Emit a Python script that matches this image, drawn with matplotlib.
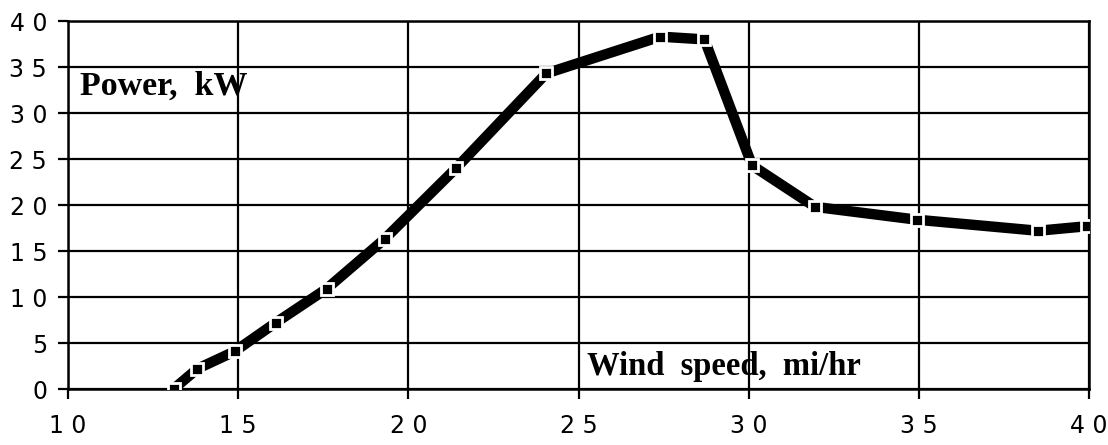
import matplotlib
matplotlib.use("Agg")
import matplotlib.pyplot as plt
from matplotlib.ticker import FuncFormatter

# wind turbine power curve
wind_speed = [13.1, 13.8, 14.9, 16.1, 17.6, 19.3, 21.4, 24.05, 27.4, 28.7,
              30.1, 31.95, 34.95, 38.5, 39.95]
power_kw = [0.0, 2.2, 4.1, 7.2, 10.9, 16.3, 24.0, 34.3, 38.3, 38.0,
            24.3, 19.8, 18.4, 17.2, 17.7]

x_ticks = [10, 15, 20, 25, 30, 35, 40]
y_ticks = [0, 5, 10, 15, 20, 25, 30, 35, 40]


def spaced(v, pos):
    # digits drawn with a gap, like the old plotter font
    return " ".join(str(int(v)))


plt.rcParams["font.family"] = ["DejaVu Sans"]

fig = plt.figure(figsize=(11.08, 4.45), dpi=100)
ax = fig.add_axes([0.0614, 0.1258, 0.9215, 0.827])

ax.plot(wind_speed, power_kw, color="black", lw=7.5, solid_capstyle="butt",
        marker="s", markersize=8.5, markerfacecolor="black",
        markeredgecolor="white", markeredgewidth=2, zorder=3)

ax.set_xlim(10, 40)
ax.set_ylim(0, 40)
ax.set_xticks(x_ticks)
ax.set_yticks(y_ticks)
ax.xaxis.set_major_formatter(FuncFormatter(spaced))
ax.yaxis.set_major_formatter(FuncFormatter(spaced))

ax.grid(True, color="black", lw=1.6, zorder=1)
for s in ax.spines.values():
    s.set_linewidth(1.8)
ax.tick_params(axis="both", direction="out", length=7, width=1.6,
               labelsize=17, colors="black")
ax.tick_params(axis="x", pad=11)
ax.tick_params(axis="y", pad=8)

ax.text(10.35, 32.0, "Power,  kW", family="Liberation Serif",
        weight="bold", fontsize=24.5, va="baseline", ha="left", zorder=4)
ax.text(25.25, 1.5, "Wind  speed,  mi/hr", family="Liberation Serif",
        weight="bold", fontsize=23.5, va="baseline", ha="left", zorder=4)

fig.savefig("out.png", dpi=100)
